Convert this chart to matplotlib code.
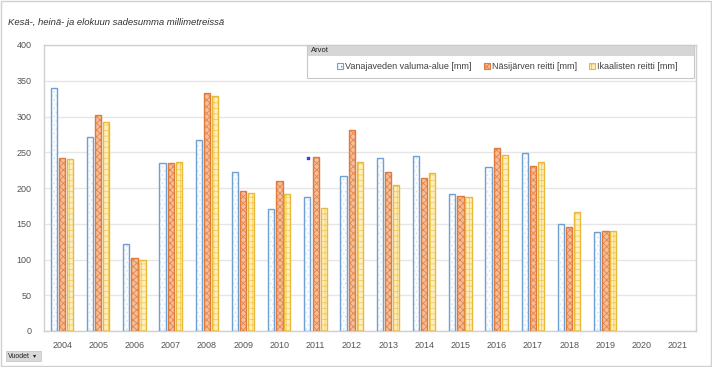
import matplotlib
matplotlib.use("Agg")
import matplotlib.pyplot as plt
from matplotlib.patches import Rectangle
import numpy as np

# Data
years = ["2004", "2005", "2006", "2007", "2008", "2009", "2010", "2011", "2012",
         "2013", "2014", "2015", "2016", "2017", "2018", "2019", "2020", "2021"]

vanajavesi = [340, 272, 122, 235, 267, 223, 171, 188, 217, 242, 245, 191, 230, 249, 150, 139]
nasijarvi = [242, 302, 102, 235, 333, 196, 210, 243, 281, 222, 214, 189, 256, 231, 145, 140]
ikaalinen = [240, 292, 100, 237, 329, 193, 191, 172, 237, 204, 221, 188, 246, 236, 166, 140]

labels = ["Vanajaveden valuma-alue [mm]", "Näsijärven reitti [mm]", "Ikaalisten reitti [mm]"]

# stray marker seen in the chart
dot_x = [7 - 0.2]
dot_y = [242]

series = [vanajavesi, nasijarvi, ikaalinen]
edge_colors = ["#6fa0d2", "#e07a3c", "#e9b93a"]
face_colors = ["#fbfcfe", "#f4c09c", "#fdefc0"]
hatch_colors = ["#d6e4f3", "#e8844a", "#f6cc55"]
hatches = ["....", "xxxxx", "+++"]

plt.rcParams["hatch.linewidth"] = 0.6
plt.rcParams["font.family"] = ["Liberation Sans", "DejaVu Sans"]

fig = plt.figure(figsize=(7.12, 3.67), dpi=100)

# outer border
fig.patches.append(Rectangle((0.002, 0.004), 0.996, 0.992, transform=fig.transFigure,
                             fill=False, edgecolor="#d0d0d0", linewidth=1))

fig.text(0.011, 0.94, "Kesä-, heinä- ja elokuun sadesumma millimetreissä",
         fontsize=6.8, style="italic", color="#303030", ha="left", va="center")

ax = fig.add_axes([44 / 712, 1 - 331 / 367, (696 - 44) / 712, (331 - 45) / 367])

x = np.arange(len(years))
width = 0.17
offsets = [-0.23, 0, 0.22]

for i in range(3):
    n = len(series[i])
    # hatch layer
    ax.bar(x[:n] + offsets[i], series[i], width, color=face_colors[i],
           edgecolor=hatch_colors[i], hatch=hatches[i], linewidth=0, zorder=2)
    # outline
    ax.bar(x[:n] + offsets[i], series[i], width, fill=False,
           edgecolor=edge_colors[i], linewidth=1.0, zorder=3)

ax.scatter(dot_x, dot_y, s=4, color="#3a3af0", marker="s", zorder=4)

ax.set_xlim(-0.5, len(years) - 0.5)
ax.set_ylim(0, 400)
ax.set_yticks(range(0, 401, 50))
ax.set_xticks(x)
ax.set_xticklabels(years)
ax.tick_params(axis="both", length=0, labelsize=6.5, labelcolor="#555555")
ax.tick_params(axis="x", pad=7)
ax.tick_params(axis="y", pad=9)
ax.grid(axis="y", color="#e6e6e6", linewidth=1)
ax.set_axisbelow(True)
for s in ax.spines.values():
    s.set_color("#d0d0d0")
    s.set_linewidth(1)

# legend box (coordinates in figure pixels)
W, H = 712, 367
lax = fig.add_axes([0, 0, 1, 1], facecolor="none")
lax.set_xlim(0, W)
lax.set_ylim(H, 0)
lax.axis("off")
lax.add_patch(Rectangle((307, 45), 387, 33, facecolor="white", edgecolor="#c8c8c8", linewidth=0.8))
lax.add_patch(Rectangle((307.5, 45.5), 386, 10, facecolor="#d6d6d6", edgecolor="none"))
lax.text(311, 50.5, "Arvot", fontsize=5.5, color="#202020", va="center")

handle_x = [337, 484, 589]
for i in range(3):
    lax.add_patch(Rectangle((handle_x[i], 63), 6, 6, facecolor=face_colors[i],
                            edgecolor=edge_colors[i], hatch=hatches[i], linewidth=0.8))
    lax.text(handle_x[i] + 8, 66.5, labels[i], fontsize=6.5, color="#404040",
             va="center", ha="left")

# "Vuodet" button
lax.add_patch(Rectangle((6, 351), 35, 10, facecolor="#d9d9d9", edgecolor="#c0c0c0",
                        linewidth=0.5))
lax.text(8, 356, "Vuodet", fontsize=5, color="#202020", ha="left", va="center")
lax.text(33, 356, "▾", fontsize=4.5, color="#202020", ha="left", va="center",
         family="DejaVu Sans")

plt.savefig("out.png", dpi=100)
